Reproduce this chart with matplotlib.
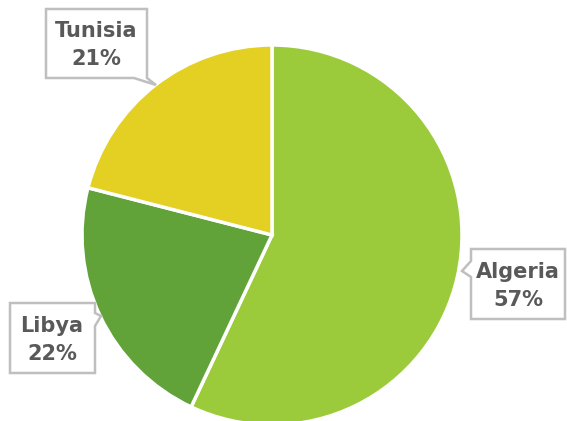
import matplotlib
matplotlib.use("Agg")
import matplotlib.pyplot as plt
from matplotlib.patches import Polygon

# Share of each country
countries = ["Algeria", "Libya", "Tunisia"]
shares = [57, 22, 21]
colors = ["#9BCB3B", "#62A339", "#E4CF23"]

W, H = 567, 421
fig = plt.figure(figsize=(W / 100, H / 100), dpi=100)
ax = fig.add_axes([0, 0, 1, 1])

cx, cy, r = 272, H - 235, 190
ax.pie(shares, colors=colors, startangle=90, counterclock=False,
       center=(cx, cy), radius=r, frame=True,
       wedgeprops=dict(edgecolor="white", linewidth=2.5))
ax.set_xlim(0, W)
ax.set_ylim(0, H)
ax.axis("off")


def flip(pts):
    return [(x, H - y) for x, y in pts]


# Callout outlines (y measured downward from the top edge)
callouts = {
    "Algeria": [(471, 249), (565, 249), (565, 319), (471, 319),
                (471, 277), (462, 271), (471, 261)],
    "Libya": [(10, 303), (95, 303), (95, 313), (101, 316),
              (95, 326), (95, 373), (10, 373)],
    "Tunisia": [(46, 9), (147, 9), (147, 78), (156, 85),
                (134, 78), (46, 78)],
}
text_pos = {
    "Algeria": (518, 286),
    "Libya": (52, 340),
    "Tunisia": (96, 45),
}

for name, val in zip(countries, shares):
    poly = Polygon(flip(callouts[name]), closed=True, facecolor="white",
                   edgecolor="#BFBFBF", linewidth=1.8, zorder=5)
    ax.add_patch(poly)
    tx, ty = text_pos[name]
    ax.text(tx, H - ty, f"{name}\n{val}%", ha="center", va="center",
            fontsize=15, fontweight="bold", color="#595959",
            family="DejaVu Sans", linespacing=1.45, zorder=6)

fig.savefig("out.png", dpi=100)
